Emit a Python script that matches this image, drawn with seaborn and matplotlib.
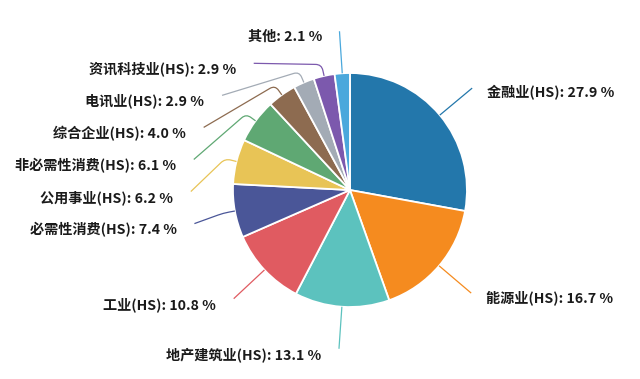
import numpy as np
import matplotlib
matplotlib.use('Agg')
import matplotlib.pyplot as plt
import seaborn as sns
from matplotlib.path import Path
from matplotlib.patches import PathPatch

# Données du graphique (répartition sectorielle)
secteurs = ['金融业(HS)', '能源业(HS)', '地产建筑业(HS)', '工业(HS)', '必需性消费(HS)',
            '公用事业(HS)', '非必需性消费(HS)', '综合企业(HS)', '电讯业(HS)',
            '资讯科技业(HS)', '其他']
parts = [27.9, 16.7, 13.1, 10.8, 7.4, 6.2, 6.1, 4.0, 2.9, 2.9, 2.1]
couleurs = ['#2377ab', '#f58b1f', '#5cc2be', '#e05b61', '#4a5698', '#e8c456',
            '#5fa873', '#8d6b50', '#a3abb5', '#7c59ad', '#4aa8dc']

sns.set_theme(style='white')
plt.rcParams['font.family'] = ['Noto Sans CJK SC', 'DejaVu Sans']

fig = plt.figure(figsize=(6.4, 3.79), dpi=100)
ax = fig.add_axes([0, 0, 1, 1])

wedges, _ = ax.pie(parts, colors=sns.color_palette(couleurs), startangle=90,
                   counterclock=False, radius=1.0, center=(0, 0),
                   wedgeprops=dict(edgecolor='white', linewidth=1.3))
ax.set_xlim(-2.991, 2.479)
ax.set_ylim(-1.615, 1.624)
ax.set_aspect('equal')
ax.axis('off')

# Position des étiquettes (type ECharts, avec évitement de chevauchement à gauche)
R = 1.36
gap = 0.274
angles = [np.deg2rad((w.theta1 + w.theta2) / 2) for w in wedges]

pos = {}
gauche = [i for i, a in enumerate(angles) if np.cos(a) < 0]
droite = [i for i, a in enumerate(angles) if np.cos(a) >= 0]
gauche.sort(key=lambda i: -np.sin(angles[i]))
y_prec = None
for i in gauche:
    y = R * np.sin(angles[i])
    if y_prec is not None and y > y_prec - gap:
        y = y_prec - gap
    y_prec = y
    x = -np.sqrt(max(R ** 2 - y ** 2, 0.0))
    pos[i] = (x, y)
for i in droite:
    pos[i] = (R * np.cos(angles[i]), R * np.sin(angles[i]))

# Lignes de rappel : segment radial court puis segment vers l'étiquette, coin arrondi
for i, a in enumerate(angles):
    p0 = np.array([np.cos(a), np.sin(a)])
    p1 = 1.1 * p0
    p2 = np.array(pos[i])
    d = p2 - p1
    n = np.linalg.norm(d)
    r_coin = min(0.05, n * 0.4)
    pa = p1 - (p1 - p0) / np.linalg.norm(p1 - p0) * 0.05
    pb = p1 + d / n * r_coin if n > 0 else p1
    chemin = Path([p0, pa, p1, pb, p2],
                  [Path.MOVETO, Path.LINETO, Path.CURVE3, Path.CURVE3, Path.LINETO])
    ax.add_patch(PathPatch(chemin, facecolor='none', edgecolor=couleurs[i], lw=0.9))
    texte = f'{secteurs[i]}: {parts[i]:.1f} %'
    if p2[0] < 0:
        ax.text(p2[0] - 0.15, p2[1] - 0.05, texte, ha='right', va='center',
                fontsize=10.2, fontweight='bold', color='#1a1a1a')
    else:
        ax.text(p2[0] + 0.13, p2[1] - 0.04, texte, ha='left', va='center',
                fontsize=10.2, fontweight='bold', color='#1a1a1a')

plt.savefig('out.png', dpi=100)
plt.close()
